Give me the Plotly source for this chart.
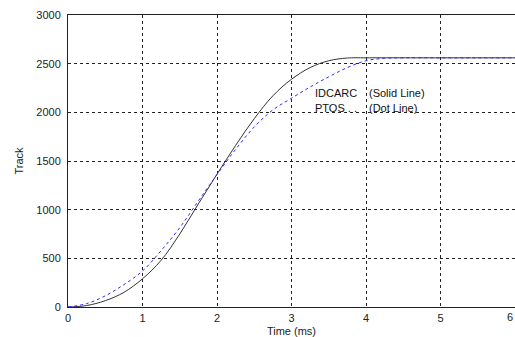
import plotly.graph_objects as go

# Seek trajectory: track position vs. time for the two controllers
t_idcarc = [0, 0.25, 0.5, 0.75, 1.0, 1.25, 1.5, 1.75, 2.0, 2.25, 2.5, 2.75,
            3.0, 3.25, 3.5, 3.75, 4.0, 5.0, 6.0]
track_idcarc = [0, 15, 65, 150, 290, 480, 750, 1060, 1365, 1660, 1935, 2170,
                2340, 2460, 2530, 2558, 2560, 2560, 2560]

t_ptos = [0, 0.25, 0.5, 0.75, 1.0, 1.25, 1.5, 1.75, 2.0, 2.25, 2.5, 2.75,
          3.0, 3.25, 3.5, 3.75, 4.0, 4.25, 4.5, 5.0, 6.0]
track_ptos = [0, 35, 115, 230, 370, 580, 815, 1090, 1360, 1620, 1850, 2025,
              2145, 2260, 2365, 2460, 2530, 2555, 2560, 2560, 2560]

x_ticks = [0, 1, 2, 3, 4, 5, 6]
y_ticks = [0, 500, 1000, 1500, 2000, 2500, 3000]

FONT = "Liberation Sans, Arial, sans-serif"
TEXT = "#222222"

fig = go.Figure()
fig.add_trace(go.Scatter(x=t_idcarc, y=track_idcarc, mode="lines",
                         line=dict(color="#333333", width=1), line_shape="spline",
                         name="IDCARC"))
fig.add_trace(go.Scatter(x=t_ptos, y=track_ptos, mode="lines",
                         line=dict(color="#2a2aff", width=1, dash="3px,3px"),
                         line_shape="spline", name="PTOS"))

# Legend written as text inside the axes
notes = [(3.29, 2196, "IDCARC"), (4.015, 2196, "(Solid Line)"),
         (3.29, 2041, "PTOS . ."), (4.015, 2041, "(Dot Line)")]
for x, y, s in notes:
    fig.add_annotation(x=x, y=y, text=s, showarrow=False, xanchor="left",
                       yanchor="middle", font=dict(family=FONT, size=11, color="#111111"))

# Last x tick label sits on the figure edge; place it by hand, kept inside the page
fig.add_annotation(x=x_ticks[-1], y=0, yref="paper", text=str(x_ticks[-1]),
                   showarrow=False, xanchor="right", yanchor="top", yshift=-2,
                   font=dict(family=FONT, size=11, color=TEXT))

axis_common = dict(showline=True, linecolor="#222222", linewidth=1, mirror=True,
                   showgrid=True, gridcolor="#222222", gridwidth=1, griddash="3px,3px",
                   zeroline=False, ticks="", tickfont=dict(family=FONT, size=11, color=TEXT))

fig.update_xaxes(range=[0, 6], tickvals=x_ticks[:-1], ticklabelstandoff=1,
                 title=dict(text="Time (ms)", standoff=4,
                            font=dict(family=FONT, size=11, color=TEXT)), **axis_common)
fig.update_yaxes(range=[0, 3000], tickvals=y_ticks, ticklabelstandoff=4,
                 title=dict(text="Track", standoff=10,
                            font=dict(family=FONT, size=11, color=TEXT)), **axis_common)

fig.update_layout(width=515, height=337, showlegend=False,
                  margin=dict(l=68, r=0, t=15, b=30),
                  plot_bgcolor="white", paper_bgcolor="white")

fig.write_html("out.html")
